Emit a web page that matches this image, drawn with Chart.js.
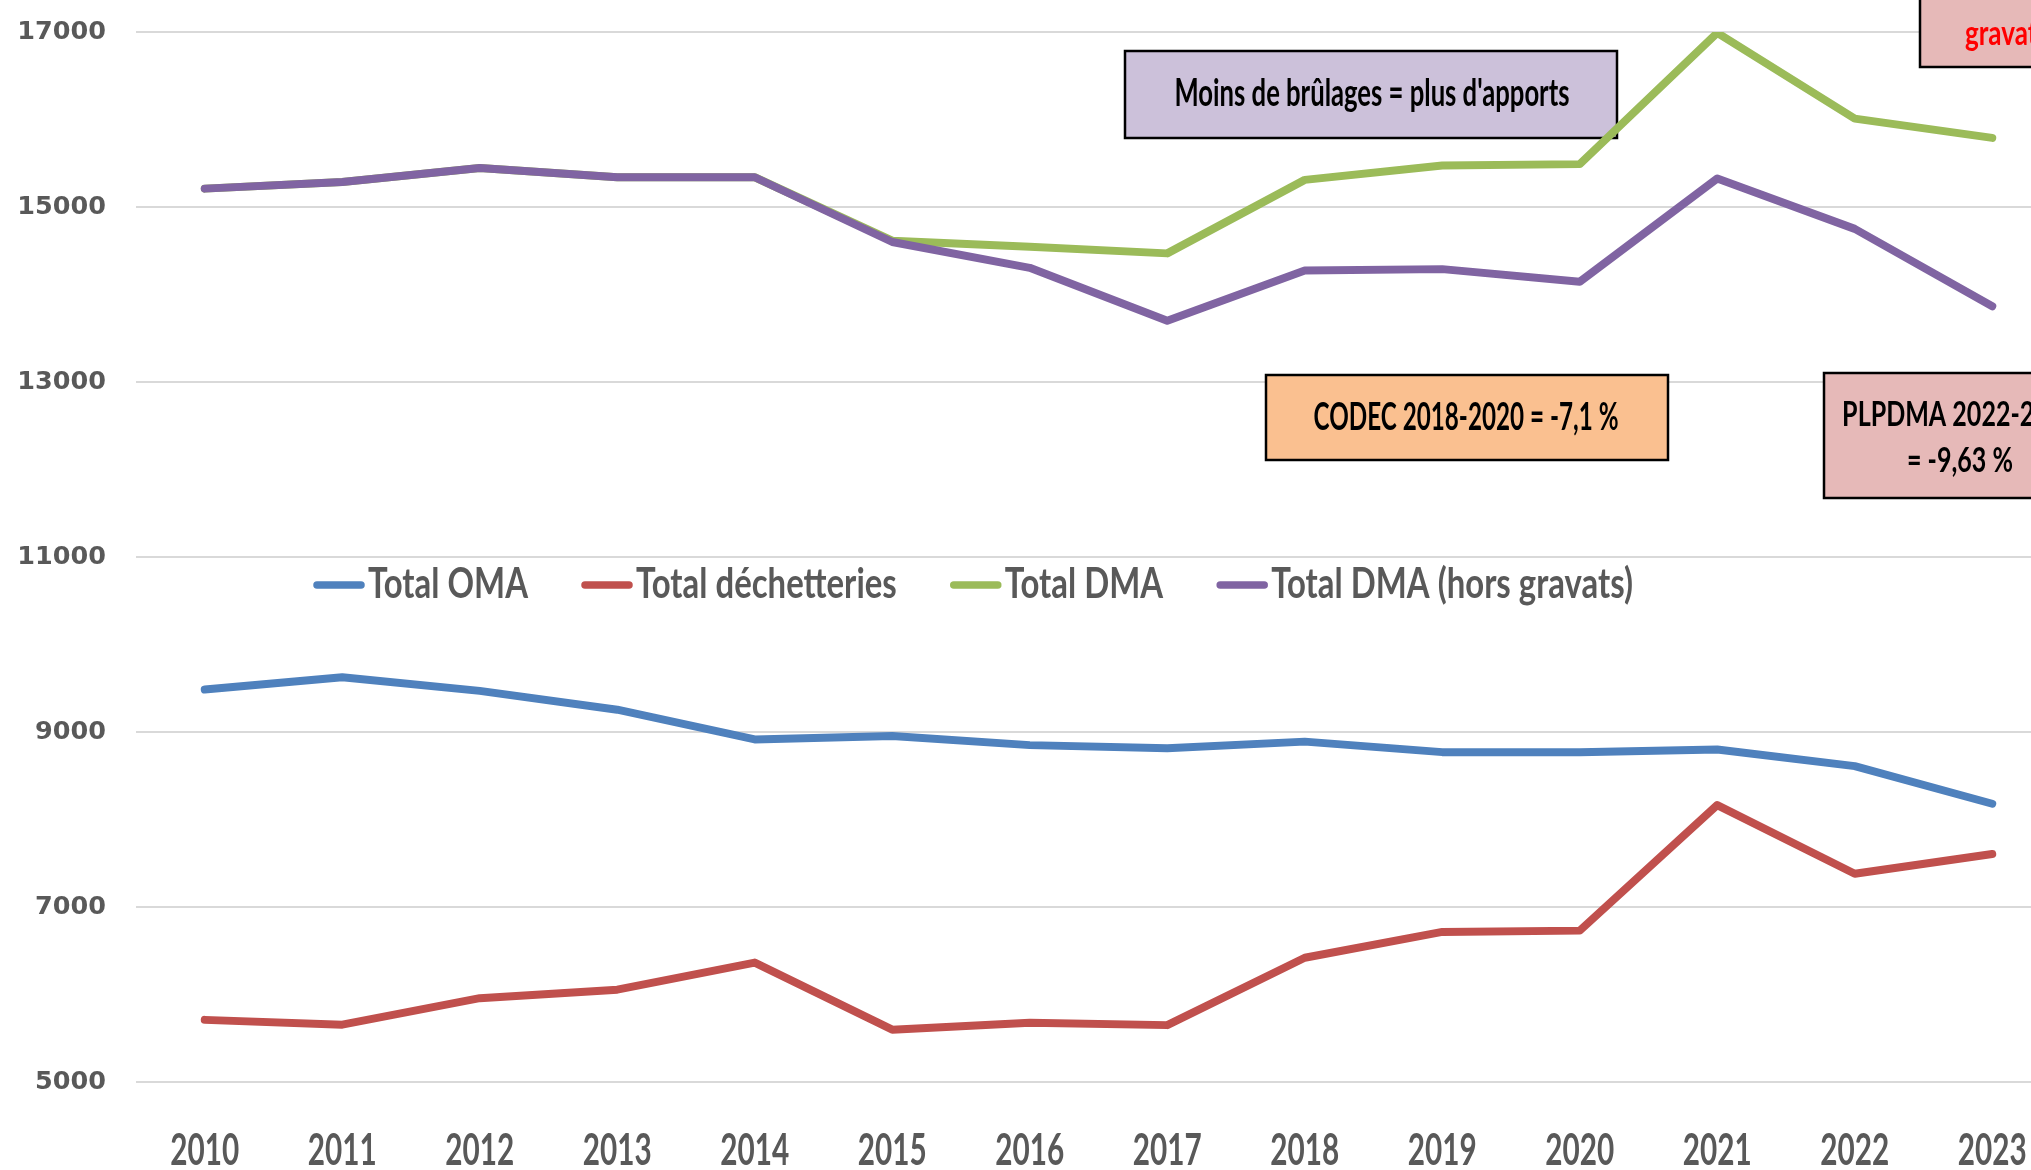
<!DOCTYPE html>
<html>
<head>
<meta charset="utf-8">
<script src="https://cdn.jsdelivr.net/npm/chart.js@4.4.1/dist/chart.umd.min.js"></script>
<style>
  html, body { margin: 0; padding: 0; background: #ffffff; overflow: hidden; }
  #wrap { position: absolute; left: 0; top: 0; width: 2100px; height: 1180px; }
</style>
</head>
<body>
<div id="wrap"><canvas id="c" width="2100" height="1180"></canvas></div>
<script>
// ---- data ----
const years = ['2010','2011','2012','2013','2014','2015','2016','2017','2018','2019','2020','2021','2022','2023'];
const totalOMA = [9485, 9625, 9470, 9255, 8915, 8955, 8850, 8815, 8890, 8770, 8770, 8800, 8610, 8180];
const totalDechetteries = [5710, 5655, 5958, 6055, 6365, 5598, 5676, 5650, 6420, 6715, 6730, 8165, 7380, 7605];
const totalDMA = [15210, 15285, 15445, 15340, 15340, 14615, 14545, 14470, 15310, 15475, 15490, 16990, 16010, 15790];
const totalDMAHorsGravats = [15210, 15285, 15445, 15340, 15340, 14600, 14305, 13700, 14275, 14290, 14145, 15325, 14750, 13865];
const seriesLabels = ['Total OMA', 'Total déchetteries', 'Total DMA', 'Total DMA (hors gravats)'];
const yTicks = [5000, 7000, 9000, 11000, 13000, 15000, 17000];
const notes = [
  ["Moins de brûlages = plus d'apports"],
  ['CODEC 2018-2020 = -7,1 %'],
  ['PLPDMA 2022-2027', '= -9,63 %'],
  ['gravats']
];

const FAM = 'Lato, "DejaVu Sans Condensed", sans-serif';
const CAP = 0.717;
const BASE = 40;

function measure(ctx, text) {
  ctx.save();
  ctx.font = 'bold ' + BASE + 'px ' + FAM;
  const w = ctx.measureText(text).width;
  ctx.restore();
  return w;
}
function drawScaled(ctx, text, x, baseline, sx, sy, color, align) {
  ctx.save();
  ctx.font = 'bold ' + BASE + 'px ' + FAM;
  ctx.fillStyle = color;
  ctx.textAlign = align;
  ctx.textBaseline = 'alphabetic';
  ctx.translate(x, baseline);
  ctx.scale(sx, sy);
  ctx.fillText(text, 0, 0);
  ctx.restore();
}
function capScale(cap) { return cap / (CAP * BASE); }
function box(ctx, x0, y0, x1, y1, fill) {
  ctx.save();
  ctx.fillStyle = fill;
  ctx.fillRect(x0, y0, x1 - x0, y1 - y0);
  ctx.strokeStyle = '#000000';
  ctx.lineWidth = 2.5;
  ctx.strokeRect(x0, y0, x1 - x0, y1 - y0);
  ctx.restore();
}

const annotationPlugin = {
  id: 'notes',
  beforeDatasetsDraw(chart) {
    const ctx = chart.ctx;
    let sx;
    box(ctx, 1125, 51, 1617, 138, '#CCC1DA');
    sx = 395 / measure(ctx, notes[0][0]);
    drawScaled(ctx, notes[0][0], 1372, 106, sx, capScale(28), '#000000', 'center');

    box(ctx, 1266, 375, 1668, 460, '#FAC090');
    sx = 305 / measure(ctx, notes[1][0]);
    drawScaled(ctx, notes[1][0], 1466, 430, sx, capScale(28), '#000000', 'center');

    box(ctx, 1824, 373, 2096, 498, '#E6B9B8');
    sx = 106 / measure(ctx, notes[2][1]);
    drawScaled(ctx, notes[2][0], 1960, 426, sx, capScale(25), '#000000', 'center');
    drawScaled(ctx, notes[2][1], 1960, 472, sx, capScale(25), '#000000', 'center');

    box(ctx, 1920, -40, 2110, 67, '#E6B9B8');
    sx = 84 / measure(ctx, notes[3][0]);
    drawScaled(ctx, notes[3][0], 1965, 45, sx, capScale(25), '#FF0000', 'left');
  },
  afterDraw(chart) {
    const ctx = chart.ctx;
    // legend
    const lsx = 160 / measure(ctx, chart.data.datasets[0].label);
    const lsy = capScale(30);
    let x = 313;
    const yLine = 585;
    chart.data.datasets.forEach(ds => {
      ctx.save();
      ctx.strokeStyle = ds.borderColor;
      ctx.lineWidth = 7.5;
      ctx.lineCap = 'round';
      ctx.beginPath();
      ctx.moveTo(x + 4, yLine);
      ctx.lineTo(x + 48, yLine);
      ctx.stroke();
      ctx.restore();
      drawScaled(ctx, ds.label, x + 55, 598, lsx, lsy, '#595959', 'left');
      x += 55 + measure(ctx, ds.label) * lsx + 53;
    });
    // x-axis category labels, positioned by the x scale
    const xs = chart.scales.x;
    const tsx = 69 / measure(ctx, '2010');
    const tsy = capScale(31);
    xs.ticks.forEach((t, i) => {
      const px = xs.getPixelForTick(i);
      drawScaled(ctx, xs.getLabelForValue(t.value), px, 1165, tsx, tsy, '#595959', 'center');
    });
  }
};

const common = { pointRadius: 0, pointHoverRadius: 0, borderWidth: 8, tension: 0, fill: false,
                 borderJoinStyle: 'round', borderCapStyle: 'round' };

new Chart(document.getElementById('c'), {
  type: 'line',
  data: {
    labels: years,
    datasets: [
      Object.assign({ label: seriesLabels[0], data: totalOMA, borderColor: '#4F81BD', backgroundColor: '#4F81BD', order: 2 }, common),
      Object.assign({ label: seriesLabels[1], data: totalDechetteries, borderColor: '#C0504D', backgroundColor: '#C0504D', order: 3 }, common),
      Object.assign({ label: seriesLabels[2], data: totalDMA, borderColor: '#9BBB59', backgroundColor: '#9BBB59', order: 1 }, common),
      Object.assign({ label: seriesLabels[3], data: totalDMAHorsGravats, borderColor: '#8064A2', backgroundColor: '#8064A2', order: 0 }, common)
    ]
  },
  options: {
    responsive: false,
    animation: false,
    devicePixelRatio: 1,
    layout: { padding: { left: 15, top: 32, right: 39, bottom: 0 } },
    plugins: { legend: { display: false }, tooltip: { enabled: false }, title: { display: false } },
    scales: {
      x: {
        type: 'category',
        offset: true,
        grid: { display: false, drawTicks: false },
        border: { display: false },
        ticks: { display: false, autoSkip: false, maxRotation: 0 },
        afterFit(scale) { scale.height = 98; }
      },
      y: {
        min: 5000,
        max: 17000,
        afterBuildTicks(scale) { scale.ticks = yTicks.map(v => ({ value: v })); },
        grid: { color: '#D9D9D9', lineWidth: 2, drawTicks: false },
        border: { display: false },
        ticks: {
          font: { family: '"DejaVu Sans", Verdana, sans-serif', weight: 'bold', size: 25.5 },
          color: '#595959',
          padding: 30,
          callback: (v) => String(v)
        },
        afterFit(scale) { scale.width = 121; scale.paddingTop = 0; scale.paddingBottom = 0; }
      }
    }
  },
  plugins: [annotationPlugin]
});
</script>
</body>
</html>
